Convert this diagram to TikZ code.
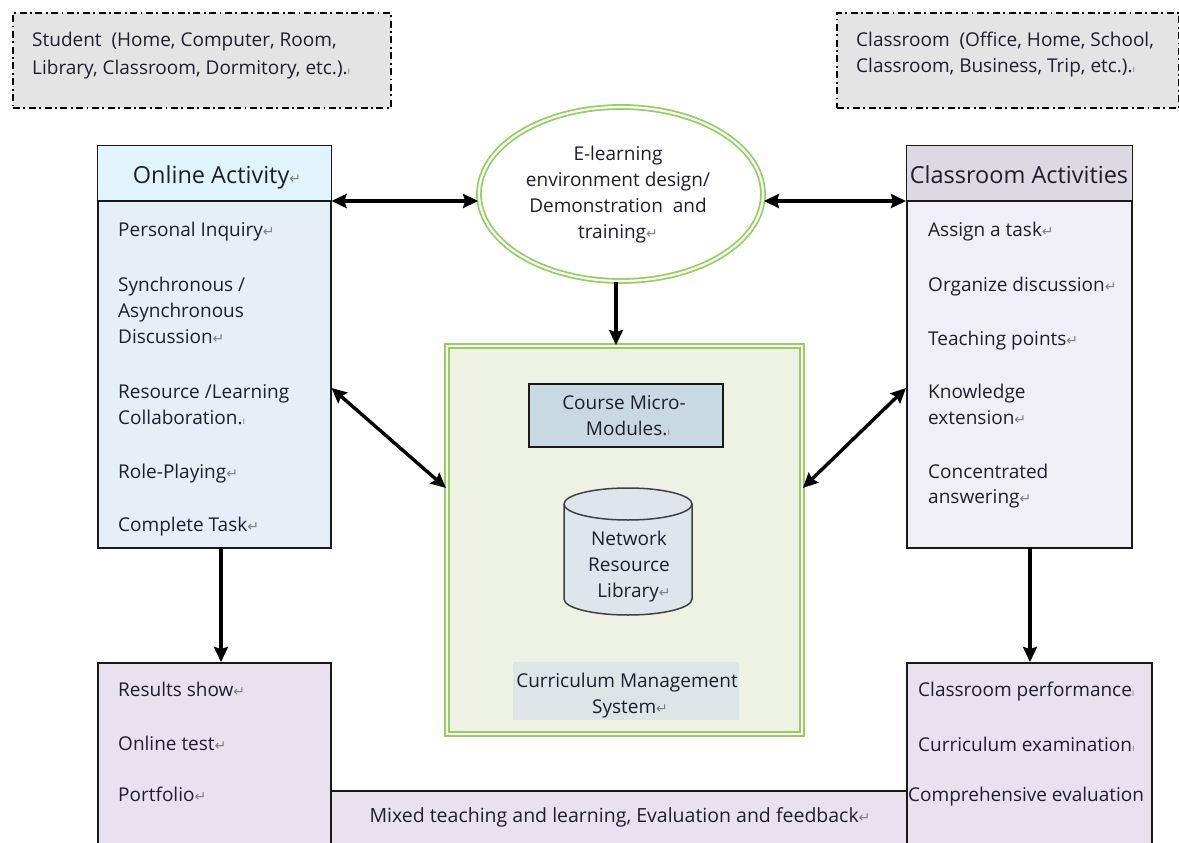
\documentclass[tikz,border=0pt]{standalone}
\usepackage{fontspec}
\setmainfont{Open Sans}
\newfontfamily\dejavu{DejaVu Sans}
\usetikzlibrary{shapes.geometric,arrows.meta}
\definecolor{dgray}{HTML}{E4E4E4}
\definecolor{onhead}{HTML}{E2F4FB}
\definecolor{onbody}{HTML}{E6EEF8}
\definecolor{clhead}{HTML}{DCD9E3}
\definecolor{clbody}{HTML}{F1EFF6}
\definecolor{purp}{HTML}{E9E0F0}
\definecolor{lgreen}{HTML}{94D060}
\definecolor{cbody}{HTML}{EEF2E4}
\definecolor{cmm}{HTML}{C9D9E3}
\definecolor{cyl}{HTML}{DCE6EB}
\definecolor{cms}{HTML}{DCE6E6}
\definecolor{txt}{HTML}{1E1E30}
\newcommand\rmk{{\dejavu\color{gray}\fontsize{14}{14}\selectfont ↵}}
\newcommand\dmk{{\color{gray}\fontsize{10}{10}\selectfont ı}}
\begin{document}
\begin{tikzpicture}[x=1pt,y=-1pt,
  box/.style={draw=black!90,line width=1.5pt,anchor=north west,inner sep=0},
  envbox/.style={draw=black,fill=dgray,line width=1.8pt,dash pattern=on 7pt off 3.5pt on 1.8pt off 3.5pt,anchor=north west,inner sep=0},
  itm/.style={anchor=base west,inner sep=0,text=txt,font=\fontsize{19}{22}\selectfont},
  ctr/.style={anchor=base,inner sep=0,text=txt,font=\fontsize{19}{22}\selectfont},
  hdr/.style={anchor=base,inner sep=0,text=txt,font=\fontsize{23.5}{27}\selectfont},
  biarrow/.style={line width=3.4pt,{Stealth[length=15pt,width=14pt,inset=2pt]}-{Stealth[length=15pt,width=14pt,inset=2pt]}},
  onearrow/.style={line width=3.4pt,-{Stealth[length=15pt,width=14pt,inset=2pt]}},
  greendbl/.style={draw=lgreen,double=white,double distance=2.2pt,line width=1.8pt}
]
\useasboundingbox (0,0) rectangle (1179,843);

% environment boxes
\node[envbox,minimum width=378,minimum height=95] (stu) at (12,12) {};
\node[itm] (stu1) at (32,47) {Student\ \ (Home, Computer, Room,};
\node[itm] (stu2) at (32,75) {Library, Classroom, Dormitory, etc.).\dmk};
\node[envbox,minimum width=342,minimum height=95] (cla) at (836,12) {};
\node[itm] (cla1) at (856,47) {Classroom\ \ (Office, Home, School,};
\node[itm] (cla2) at (856,73) {Classroom, Business, Trip, etc.).\dmk};

% online activity
\node[box,fill=onbody,minimum width=233,minimum height=402] (onl) at (97,145) {};
\fill[onhead] ([shift={(0.8,0.8)}]onl.north west) rectangle ([shift={(-0.8,56)}]onl.north east);
\draw[line width=1.5pt,black!90] ([shift={(0,56)}]onl.north west) coordinate (onlA) -- ([shift={(0,56)}]onl.north east) coordinate (onlB);
\node[hdr] (onlh) at (217,183) {Online Activity\rmk};
\node[itm] (o1) at (118,236) {Personal Inquiry\rmk};
\node[itm] (o2) at (118,291) {Synchronous /};
\node[itm] (o3) at (118,317) {Asynchronous};
\node[itm] (o4) at (118,343) {Discussion\rmk};
\node[itm] (o5) at (118,398) {Resource /Learning};
\node[itm] (o6) at (118,424) {Collaboration.\dmk};
\node[itm] (o7) at (118,478) {Role-Playing\rmk};
\node[itm] (o8) at (118,531) {Complete Task\rmk};

% classroom activities
\node[box,fill=clbody,minimum width=225,minimum height=402] (cls) at (906,145) {};
\fill[clhead] ([shift={(0.8,0.8)}]cls.north west) rectangle ([shift={(-0.8,56)}]cls.north east);
\draw[line width=1.5pt,black!90] ([shift={(0,56)}]cls.north west) coordinate (clsA) -- ([shift={(0,56)}]cls.north east) coordinate (clsB);
\node[hdr] (clsh) at (1019,183) {Classroom Activities};
\node[itm] (c1) at (928,236) {Assign\ a task\rmk};
\node[itm] (c2) at (928,291) {Organize discussion\rmk};
\node[itm] (c3) at (928,345) {Teaching points\rmk};
\node[itm] (c4) at (928,398) {Knowledge};
\node[itm] (c5) at (928,424) {extension\rmk};
\node[itm] (c6) at (928,478) {Concentrated};
\node[itm] (c7) at (928,503) {answering\rmk};

% ellipse
\node[ellipse,greendbl,fill=white,minimum width=284,minimum height=174,inner sep=0] (ell) at (621,194) {};
\node[ctr] (e1) at (618,160) {E-learning};
\node[ctr] (e2) at (618,186) {environment design/};
\node[ctr] (e3) at (618,212) {Demonstration\ \ and};
\node[ctr] (e4) at (618,238) {training\rmk};

% central box
\node[box,greendbl,fill=cbody,minimum width=355,minimum height=388] (cen) at (446,345) {};
\node[box,fill=cmm,minimum width=194,minimum height=63] (cmmb) at (528,383) {};
\node[ctr] (m1) at (624,409) {Course Micro-};
\node[ctr] (m2) at (628,435) {Modules.\dmk};
% cylinder
\coordinate (cylT) at (628,504);
\coordinate (cylB) at (628,599);
\filldraw[fill=cyl,draw=black!75,line width=1.5pt]
  ([xshift=-64]cylT) -- ([xshift=-64]cylB) arc[start angle=180,end angle=0,x radius=64,y radius=16]
  -- ([xshift=64]cylT) arc[start angle=0,end angle=-180,x radius=64,y radius=16] -- cycle;
\draw[black!75,line width=1.5pt] ([xshift=-64]cylT) arc[start angle=180,end angle=0,x radius=64,y radius=16];
\node[ctr] (n1) at (629,545) {Network};
\node[ctr] (n2) at (629,571) {Resource};
\node[ctr] (n3) at (634,597) {Library\rmk};
\fill[cms] (513,662) rectangle (739,720);
\node[ctr] (s1) at (627,687) {Curriculum Management};
\node[ctr] (s2) at (630,713) {System\rmk};

% bottom boxes
\node[box,fill=purp,minimum width=233,minimum height=200] (bl) at (97,662) {};
\node[itm] (b1) at (118,696) {Results show\rmk};
\node[itm] (b2) at (118,750) {Online test\rmk};
\node[itm] (b3) at (118,801) {Portfolio\rmk};
\node[box,fill=purp,minimum width=245,minimum height=200] (br) at (906,662) {};
\node[itm] (r1) at (918,696) {Classroom performance\dmk};
\node[itm] (r2) at (918,751) {Curriculum examination\dmk};
\node[itm] (r3) at (908,801) {Comprehensive evaluation};
\node[box,fill=purp,minimum width=576,minimum height=80] (bar) at (330,790) {};
\node[ctr,font=\fontsize{19.5}{22}\selectfont] (bt) at (620,822) {Mixed teaching and learning, Evaluation and feedback\rmk};

% connectors
\draw[biarrow] (onlB) -- (ell.west |- onlB);
\draw[biarrow] (ell.east |- clsA) -- (clsA);
\draw[onearrow] (ell.south) ++(-5,0) coordinate (es) -- (es |- cen.north);
\coordinate (oD) at (onl.east |- 0,388);
\coordinate (cD) at (cen.west |- 0,488);
\draw[biarrow] (oD) -- (cD);
\coordinate (cE) at (cen.east |- 0,488);
\coordinate (kD) at (cls.west |- 0,388);
\draw[biarrow] (cE) -- (kD);
\coordinate (oS) at (221,547);
\draw[onearrow] (oS) -- (oS |- bl.north);
\coordinate (kS) at (1030,547);
\draw[onearrow] (kS) -- (kS |- br.north);
\end{tikzpicture}
\end{document}
